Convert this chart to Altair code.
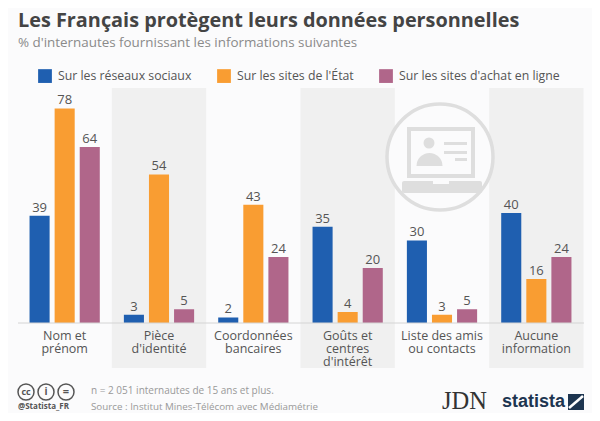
import altair as alt
import pandas as pd

categories = ["Nom et\nprénom", "Pièce\nd'identité", "Coordonnées\nbancaires",
              "Goûts et\ncentres\nd'intérêt", "Liste des amis\nou contacts", "Aucune\ninformation"]
shaded = ["Pièce\nd'identité", "Goûts et\ncentres\nd'intérêt", "Aucune\ninformation"]
series = ["Sur les réseaux sociaux", "Sur les sites de l'État", "Sur les sites d'achat en ligne"]
reseaux = [39, 3, 2, 35, 30, 40]
etat = [78, 54, 43, 4, 3, 16]
achat = [64, 5, 24, 20, 5, 24]
colors = ["#1f5fb0", "#f99d32", "#b0668a"]

FONT = "Open Sans"
rows = []
for s, vals in zip(series, [reseaux, etat, achat]):
    for c, v in zip(categories, vals):
        rows.append({"cat": c, "series": s, "value": v})
df = pd.DataFrame(rows)
one = alt.Data(values=[{"a": 1}])

x = alt.X("cat:N", sort=categories, axis=None,
          scale=alt.Scale(domain=categories, range=[9.5, 575.5], paddingInner=0, paddingOuter=0))
y = alt.Y("value:Q", axis=None, scale=alt.Scale(domain=[0, 114.5], range=[315, 0], nice=False))
xo = alt.XOffset("series:N", sort=series,
                 scale=alt.Scale(domain=series, paddingInner=0.2, paddingOuter=0.48))


def P(px):  # image pixels to chart pixels
    return alt.value(px - 8)


def txt(text, px, py, size=12, color="#555555", weight="normal", font=FONT, align="left"):
    return alt.Chart(one).mark_text(fontSize=size, color=color, fontWeight=weight, font=font,
                                    align=align, baseline="middle").encode(
        x=P(px), y=P(py), text=alt.value(text))


def rect(x1, x2, y1, y2, color, **kw):
    return alt.Chart(one).mark_rect(color=color, **kw).encode(x=P(x1), x2=P(x2), y=P(y1), y2=P(y2))


def dot(px, py, d, **kw):
    return alt.Chart(one).mark_point(shape="circle", size=d * d, **kw).encode(x=P(px), y=P(py))


ICON = "#dedede"
bands = alt.Chart(pd.DataFrame({"cat": shaded})).mark_rect(color="#f0f0f0").encode(
    x=x, y=P(88), y2=P(368))

icon = [
    dot(440, 157, 106, filled=True, fill="#fbfbfc", opacity=1, stroke=ICON, strokeWidth=3.5),
    rect(407, 475, 127, 178, ICON),
    rect(411, 471, 131, 174, "#fbfbfc"),
    dot(429, 143, 11, filled=True, color=ICON, opacity=1),
    alt.Chart(one).mark_arc(color=ICON, theta=4.7124, theta2=7.854, outerRadius=13).encode(
        x=P(429.5), y=P(166)),
    rect(444, 467, 142, 145, ICON),
    rect(444, 467, 151, 154, ICON),
    rect(455, 467, 158, 161, ICON),
    rect(402, 482, 181, 193, ICON, cornerRadius=2),
    rect(433, 449, 181, 184, "#fbfbfc"),
]

bars = alt.Chart(df).mark_bar().encode(
    x=x, xOffset=xo, y=y, y2=alt.Y2(datum=0),
    color=alt.Color("series:N", sort=series,
                    scale=alt.Scale(domain=series, range=colors),
                    legend=alt.Legend(title=None, orient="none", legendX=30, legendY=61,
                                      direction="horizontal", columns=3, symbolType="square",
                                      symbolSize=190, symbolOpacity=1, symbolStrokeWidth=0,
                                      labelFont=FONT, labelFontSize=12.3, labelColor="#555555",
                                      columnPadding=25, symbolOffset=0, labelOffset=6,
                                      padding=0, labelLimit=0)))
values = alt.Chart(df).mark_text(font=FONT, fontSize=13, color="#555555", baseline="bottom", dy=-1).encode(
    x=x, xOffset=xo, y=y, text="value:Q")
base = alt.Chart(pd.DataFrame({"value": [0]})).mark_rule(color="#d4d4d4", strokeWidth=1).encode(
    y=y, x=P(18), x2=P(584))
cats = alt.Chart(pd.DataFrame({"cat": categories})).mark_text(
    font=FONT, fontSize=12.5, color="#555555", baseline="middle", lineBreak="\n", lineHeight=13).encode(
    x=x, y=P(335.5), text="cat:N")

texts = [
    txt("Les Français protègent leurs données personnelles", 18, 21, size=19.85, color="#444444", weight="bold"),
    txt("% d'internautes fournissant les informations suivantes", 18, 43, size=13.4, color="#8a8a8a"),
    txt("n = 2 051 internautes de 15 ans et plus.", 91, 391, size=10, color="#999999"),
    txt("Source : Institut Mines-Télécom avec Médiamétrie", 91, 407, size=9.8, color="#999999"),
    txt("@Statista_FR", 18, 407, size=8, color="#555555", weight="bold"),
    txt("cc", 26, 391.5, size=9, color="#555555", weight="bold", align="center"),
    txt("i", 46, 391.5, size=10, color="#555555", weight="bold", align="center"),
    txt("=", 66, 391.5, size=11, color="#555555", weight="bold", align="center"),
    txt("JDN", 442, 402, size=24.5, color="#333333", font="Liberation Serif"),
    txt("statista", 502, 402, size=18, color="#1d3550", weight="bold", font="Liberation Sans"),
]
badges = [dot(px, 392, 16, filled=False, color="#555555", strokeWidth=1.5, opacity=1) for px in (26, 46, 66)]
logo = [
    rect(568, 584, 394, 410, "#1d3550"),
    alt.Chart(one).mark_rule(color="#ffffff", strokeWidth=2.5).encode(x=P(569), x2=P(583), y=P(408), y2=P(396)),
]

chart = alt.layer(bands, *icon, bars, values, base, cats, *texts, *badges, *logo).resolve_scale(
    x="shared", y="shared").properties(
    width=584, height=405, padding=0, background="#fbfbfc",
    autosize=alt.AutoSizeParams(type="none")
).configure_view(stroke=None)

chart.save("out.html", embed_options={"renderer": "svg", "actions": False})
